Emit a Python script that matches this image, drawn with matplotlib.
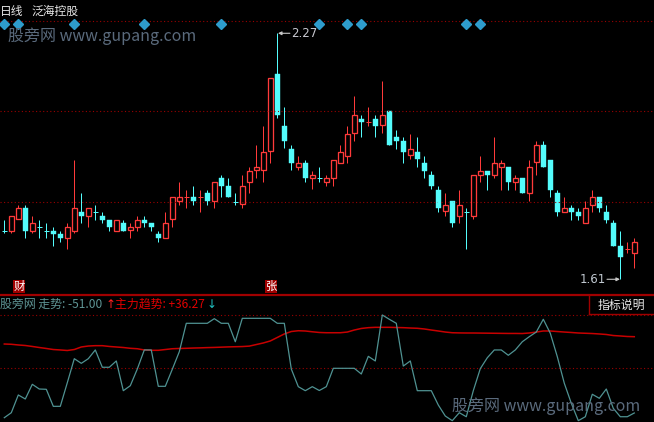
import matplotlib
matplotlib.use("Agg")
import matplotlib.pyplot as plt
from matplotlib.patches import Rectangle
import matplotlib.transforms as mtransforms

plt.rcParams['font.family'] = ['Noto Sans CJK SC', 'DejaVu Sans']

# daily bars, 泛海控股
opens = [1.740, 1.740, 1.771, 1.800, 1.740, 1.749, 1.740, 1.740, 1.731, 1.722,
         1.740, 1.791, 1.781, 1.791, 1.780, 1.769, 1.740, 1.760, 1.741, 1.751,
         1.769, 1.760, 1.731, 1.722, 1.771, 1.821, 1.830, 1.830, 1.830, 1.842,
         1.821, 1.881, 1.860, 1.818, 1.811, 1.872, 1.902, 1.902, 1.953, 2.161,
         2.021, 1.960, 1.912, 1.921, 1.883, 1.883, 1.872, 1.883, 1.923, 1.942,
         2.002, 2.040, 2.033, 2.040, 2.024, 2.062, 1.992, 1.981, 1.943, 1.951,
         1.922, 1.890, 1.850, 1.792, 1.820, 1.781, 1.791, 1.781, 1.891, 1.900,
         1.891, 1.912, 1.911, 1.872, 1.882, 1.842, 1.924, 1.970, 1.930, 1.842,
         1.791, 1.800, 1.791, 1.762, 1.810, 1.831, 1.791, 1.761, 1.699, 1.691,
         1.681]
highs = [1.769, 1.779, 1.809, 1.809, 1.779, 1.769, 1.760, 1.750, 1.740, 1.760,
         1.930, 1.842, 1.800, 1.809, 1.791, 1.769, 1.769, 1.769, 1.760, 1.779,
         1.779, 1.760, 1.740, 1.791, 1.830, 1.871, 1.850, 1.860, 1.850, 1.850,
         1.870, 1.890, 1.881, 1.841, 1.890, 1.912, 1.970, 2.020, 2.149, 2.270,
         2.072, 1.970, 1.941, 1.930, 1.901, 1.912, 1.890, 1.930, 1.970, 2.021,
         2.102, 2.050, 2.072, 2.050, 2.142, 2.062, 2.011, 1.992, 2.000, 1.992,
         1.941, 1.901, 1.860, 1.841, 1.820, 1.850, 1.800, 1.889, 1.941, 1.900,
         1.992, 1.930, 1.911, 1.890, 1.882, 1.930, 1.981, 1.981, 1.930, 1.850,
         1.831, 1.810, 1.801, 1.820, 1.850, 1.831, 1.809, 1.770, 1.740, 1.710,
         1.721]
lows = [1.734, 1.733, 1.771, 1.722, 1.733, 1.722, 1.722, 1.700, 1.711, 1.692,
        1.733, 1.762, 1.751, 1.769, 1.762, 1.740, 1.740, 1.740, 1.722, 1.740,
        1.751, 1.740, 1.711, 1.722, 1.751, 1.810, 1.802, 1.810, 1.791, 1.810,
        1.802, 1.832, 1.832, 1.809, 1.802, 1.842, 1.883, 1.872, 1.923, 2.042,
        1.961, 1.902, 1.902, 1.872, 1.851, 1.872, 1.861, 1.861, 1.923, 1.923,
        1.982, 1.993, 2.022, 1.993, 2.002, 1.971, 1.960, 1.923, 1.932, 1.912,
        1.883, 1.851, 1.791, 1.781, 1.751, 1.762, 1.692, 1.771, 1.871, 1.850,
        1.882, 1.850, 1.850, 1.850, 1.842, 1.821, 1.891, 1.912, 1.832, 1.780,
        1.791, 1.770, 1.770, 1.762, 1.791, 1.791, 1.761, 1.700, 1.610, 1.681,
        1.641]
closes = [1.740, 1.779, 1.800, 1.740, 1.760, 1.749, 1.740, 1.731, 1.722, 1.749,
          1.800, 1.781, 1.800, 1.791, 1.770, 1.750, 1.769, 1.740, 1.749, 1.769,
          1.761, 1.750, 1.722, 1.760, 1.830, 1.830, 1.830, 1.821, 1.830, 1.821,
          1.870, 1.861, 1.832, 1.818, 1.860, 1.901, 1.911, 1.951, 2.149, 2.051,
          1.982, 1.923, 1.921, 1.883, 1.890, 1.883, 1.881, 1.930, 1.951, 1.999,
          2.050, 2.033, 2.033, 2.022, 2.050, 1.971, 1.982, 1.952, 1.960, 1.932,
          1.901, 1.861, 1.802, 1.809, 1.762, 1.809, 1.791, 1.889, 1.900, 1.891,
          1.921, 1.921, 1.872, 1.881, 1.842, 1.910, 1.970, 1.912, 1.850, 1.791,
          1.800, 1.791, 1.781, 1.800, 1.831, 1.801, 1.770, 1.700, 1.671, 1.691,
          1.710]

# indicator panel
trend = [-56.4, -50.7, -30.4, -35.0, -18.2, -23.6, -23.9, -43.4, -43.4, -16.4,
         11.1, 5.8, 11.1, 21.1, 1.3, 1.3, 8.5, -25.5, -19.8, -0.7,
         21.1, 21.1, -20.5, -20.5, -1.0, 19.1, 51.6, 51.6, 51.6, 51.6,
         56.9, 51.6, 51.6, 30.5, 57.3, 57.3, 57.3, 57.3, 57.3, 51.6,
         51.6, -0.7, -20.9, -25.5, -20.9, -25.3, -20.9, 0.1, 0.1, 0.1,
         0.1, -6.4, 13.8, 8.5, 61.1, 56.2, 51.6, 2.7, 8.5, -25.5,
         -25.5, -25.5, -41.9, -54.5, -59.8, -50.7, -55.3, -25.5, -0.3, 12.2,
         21.1, 21.1, 15.0, 21.1, 30.5, 36.3, 41.6, 56.2, 40.2, 13.4,
         -17.0, -39.9, -59.8, -55.3, -29.6, -34.2, -23.6, -45.7, -55.3, -55.3,
         -51.0]
main_trend = [27.9, 27.6, 26.8, 26.2, 25.1, 23.9, 22.8, 21.6, 21.1, 20.5,
              21.6, 24.5, 25.6, 26.0, 26.0, 25.1, 24.5, 23.9, 23.0, 22.5,
              21.1, 20.7, 20.7, 21.6, 22.5, 22.8, 23.0, 23.3, 23.5, 23.8,
              24.0, 24.3, 24.6, 24.8, 25.0, 25.5, 27.3, 29.1, 31.4, 35.4,
              39.4, 42.2, 43.1, 42.8, 41.9, 41.1, 40.8, 40.8, 40.8, 41.6,
              43.9, 45.7, 46.6, 47.0, 47.0, 47.0, 46.8, 46.6, 46.2, 45.9,
              45.1, 43.9, 42.8, 41.6, 40.8, 40.6, 40.5, 40.5, 40.4, 40.3,
              40.2, 40.1, 40.0, 40.0, 39.9, 40.5, 41.6, 42.8, 42.8, 42.2,
              41.6, 41.1, 40.5, 40.2, 39.9, 39.4, 38.8, 37.6, 37.1, 36.5,
              36.27]

signal_days = [0, 2, 10, 20, 31, 45, 49, 51, 66, 68]
price_grid = [2.304, 2.061, 1.817]
ind_grid = [61, 0]

W, H = 654, 422
RED = '#ff3a3a'
CYAN = '#54fcfc'

def fx(px):
    return px / W

def fy(py):
    return 1 - py / H

fig = plt.figure(figsize=(W / 100, H / 100), dpi=100, facecolor='black')
split = 295
ax = fig.add_axes([0, fy(split), 1, split / H])
ax2 = fig.add_axes([0, 0, 1, (H - split) / H])
for a in (ax, ax2):
    a.set_facecolor('black')
    a.axis('off')

n = len(closes)
ax.set_xlim(-4.3 / 7, (W - 4.3) / 7)
ax.set_ylim(2.3593 - 0.002683 * split, 2.3593)
ax2.set_xlim(-4.3 / 7, (W - 4.3) / 7)
ax2.set_ylim(-(H - 368.4) / 0.874, (368.4 - split) / 0.874)

for g in price_grid:
    ax.axhline(g, color='#9a0000', lw=0.8, ls=(0, (1, 2.2)))
for g in ind_grid:
    ax2.axhline(g, color='#9a0000', lw=0.8, ls=(0, (1, 2.2)))

bw = 0.7
px1 = 0.72
for i in range(n):
    o, h, l, c = opens[i], highs[i], lows[i], closes[i]
    if c > o:
        up = True
    elif c < o:
        up = False
    else:
        up = i > 0 and c >= closes[i - 1]
    col = RED if up else CYAN
    top, bot = max(o, c), min(o, c)
    if top - bot < 0.004:
        ax.vlines(i, l, h, color=col, lw=px1)
        ax.hlines(o, i - bw / 2, i + bw / 2, color=col, lw=px1)
    elif up:
        ax.vlines(i, top, h, color=col, lw=px1)
        ax.vlines(i, l, bot, color=col, lw=px1)
        ax.add_patch(Rectangle((i - bw / 2, bot), bw, top - bot,
                               facecolor='black', edgecolor=col, lw=px1 * 1.3))
    else:
        ax.vlines(i, l, h, color=col, lw=px1)
        ax.add_patch(Rectangle((i - bw / 2, bot), bw, top - bot,
                               facecolor=col, edgecolor=col, lw=0.3))

# signal diamonds along top
trans = mtransforms.blended_transform_factory(ax.transData, ax.transAxes)
ax.plot(signal_days, [1 - 24.3 / split] * len(signal_days), 'D', color='#2e9ccc',
        ms=5.5, mec='#2e9ccc', transform=trans, clip_on=False)

# high / low markers
ih = highs.index(max(highs))
il = lows.index(min(lows))
ax.annotate('', xy=(ih + 0.1, highs[ih]), xytext=(ih + 1.8, highs[ih]),
            arrowprops=dict(arrowstyle='-|>', color='#c8c8c8', lw=0.8,
                            mutation_scale=5, shrinkA=0, shrinkB=0))
ax.text(ih + 1.95, highs[ih], '%.2f' % max(highs), color='#c8c8d0', fontsize=8.5,
        va='center', ha='left', family=['DejaVu Sans'])
ax.annotate('', xy=(il - 0.05, lows[il]), xytext=(il - 1.9, lows[il]),
            arrowprops=dict(arrowstyle='-|>', color='#c8c8c8', lw=0.8,
                            mutation_scale=5, shrinkA=0, shrinkB=0))
ax.text(il - 2.05, lows[il], '%.2f' % min(lows), color='#c0c8d0', fontsize=8.5,
        va='center', ha='right', family=['DejaVu Sans'])

# indicator lines
xs = list(range(n))
ax2.plot(xs, main_trend, color='#c80000', lw=1.1)
ax2.plot(xs, trend, color='#4f9292', lw=0.9)

# panel separator and info box
fig.add_artist(plt.Line2D([0, 1], [fy(295), fy(295)], color='#a00000', lw=1.6))
fig.add_artist(plt.Line2D([fx(588.5), fx(588.5)], [fy(295), fy(314)], color='#a00000', lw=1.0))
fig.add_artist(plt.Line2D([fx(588.5), 1], [fy(314), fy(314)], color='#a00000', lw=1.0))
fig.text(fx(621), fy(305), '指标说明', color='#e8e8e8', fontsize=8.6, ha='center', va='center')

# labels
fig.text(fx(0), fy(11), '日线', color='#e8e8e8', fontsize=8.5, va='center')
fig.text(fx(32), fy(11), '泛海控股', color='#e8e8e8', fontsize=8.5, va='center')
fig.text(fx(8), fy(36), '股旁网 www.gupang.com', color='#5a6a7c', fontsize=11.5, va='center')
fig.text(fx(452), fy(406), '股旁网 www.gupang.com', color='#5a6a7c', fontsize=11.5, va='center')

for lbl, x0 in (('财', 12.7), ('张', 265)):
    fig.text(fx(x0 + 6.2), fy(286.5), lbl, color='white', fontsize=8.2, ha='center', va='center',
             bbox=dict(boxstyle='square,pad=0.05', fc='#a00000', ec='none'))

fig.text(fx(0), fy(304), '股旁网 走势: %.2f' % trend[-1], color='#5f9595', fontsize=8.6, va='center')
fig.text(fx(106), fy(304), '↑', color='#ff2020', fontsize=8.6, va='center', family=['DejaVu Sans'])
fig.text(fx(115), fy(304), '主力趋势: +%.2f' % main_trend[-1], color='#e00000', fontsize=8.6, va='center')
fig.text(fx(207), fy(304), '↓', color='#20c0c0', fontsize=8.6, va='center', family=['DejaVu Sans'])

fig.savefig('out.png', dpi=100, facecolor='black')
